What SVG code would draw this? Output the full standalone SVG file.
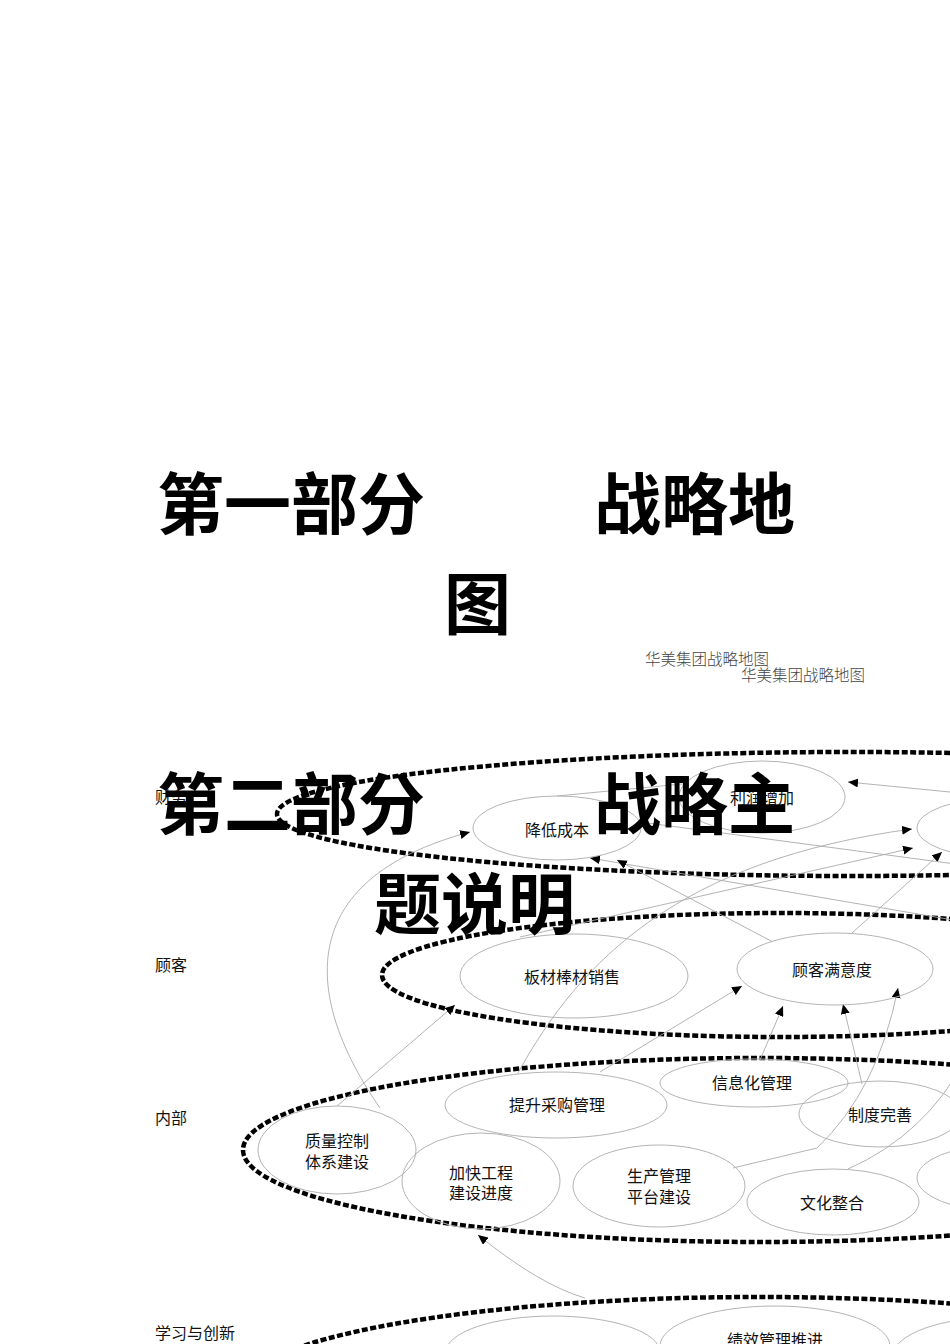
<svg xmlns="http://www.w3.org/2000/svg" width="950" height="1344" viewBox="0 0 950 1344">
<style>
.bg{fill:#fff}
.zone{fill:none;stroke:#000;stroke-width:4.5;stroke-dasharray:6 2.5}
.node{fill:none;stroke:#b4b4b4;stroke-width:1}
.link{fill:none;stroke:#aaa;stroke-width:0.9}
.lbl{font-family:"Noto Sans CJK SC","Noto Sans",sans-serif;font-size:16px;fill:#111;text-anchor:middle}
.side{font-family:"Noto Sans CJK SC","Noto Sans",sans-serif;font-size:16px;fill:#111}
.title{font-family:"Noto Sans CJK SC","Noto Sans",sans-serif;font-size:67px;font-weight:700;fill:#000}
.sub{font-family:"Noto Sans CJK SC","Noto Sans",sans-serif;font-size:15.5px;font-weight:300;fill:#444}
</style>
<defs>
<marker id="arr" markerWidth="10" markerHeight="9" refX="10" refY="4.5" orient="auto" markerUnits="userSpaceOnUse"><path d="M0,0 L10,4.5 L0,9 z" fill="#000"/></marker>
</defs>
<rect class="bg" x="0" y="0" width="950" height="1344"/>

<g id="zones">
<ellipse class="zone" cx="850" cy="814" rx="573" ry="62"/>
<ellipse class="zone" cx="780" cy="975" rx="398" ry="62"/>
<ellipse class="zone" cx="760" cy="1150" rx="517" ry="92"/>
<ellipse class="zone" cx="760" cy="1389" rx="517" ry="92"/>
</g>

<g id="side-labels">
<text class="side" x="155" y="803">财务</text>
<text class="side" x="155" y="971">顾客</text>
<text class="side" x="155" y="1124">内部</text>
<text class="side" x="155" y="1339">学习与创新</text>
</g>

<g id="connectors">
<path class="link" d="M380,1108 C305,1000 290,880 470,832" marker-end="url(#arr)"/>
<path class="link" d="M337,1106 L455,1005" marker-end="url(#arr)"/>
<path class="link" d="M1000,928 L590,858" marker-end="url(#arr)"/>
<path class="link" d="M773,942 L617,860" marker-end="url(#arr)"/>
<path class="link" d="M960,793 L848,782" marker-end="url(#arr)"/>
<path class="link" d="M518,1073 C580,960 680,860 912,829" marker-end="url(#arr)"/>
<path class="link" d="M520,937 L913,848" marker-end="url(#arr)"/>
<path class="link" d="M852,933 L942,852" marker-end="url(#arr)"/>
<path class="link" d="M557,796 L682,784"/>
<path class="link" d="M640,822 L1000,870"/>
<path class="link" d="M600,1072 L742,986" marker-end="url(#arr)"/>
<path class="link" d="M760,1060 L783,1006" marker-end="url(#arr)"/>
<path class="link" d="M862,1084 L843,1004" marker-end="url(#arr)"/>
<path class="link" d="M733,1168 L817,1148 Q878,1090 898,988" marker-end="url(#arr)"/>
<path class="link" d="M848,1169 Q925,1135 965,1060"/>
<path class="link" d="M585,1298 Q540,1285 478,1235" marker-end="url(#arr)"/>
</g>

<g id="n-cost"><ellipse class="node" cx="557" cy="828" rx="84" ry="32"/><text class="lbl" x="557" y="836">降低成本</text></g>
<g id="n-profit"><ellipse class="node" cx="762" cy="797" rx="83" ry="36"/><text class="lbl" x="762" y="804">利润增加</text></g>
<g id="n-fin-right"><ellipse class="node" cx="1000" cy="828" rx="83" ry="30"/></g>

<g id="n-sales"><ellipse class="node" cx="574" cy="976" rx="114" ry="42"/><text class="lbl" x="572" y="983">板材棒材销售</text></g>
<g id="n-satisfaction"><ellipse class="node" cx="835" cy="969" rx="98" ry="36"/><text class="lbl" x="832" y="976">顾客满意度</text></g>

<g id="n-quality"><ellipse class="node" cx="337" cy="1150" rx="79" ry="44"/><text class="lbl" x="337" y="1147">质量控制</text><text class="lbl" x="337" y="1168">体系建设</text></g>
<g id="n-project"><ellipse class="node" cx="481" cy="1181" rx="79" ry="48"/><text class="lbl" x="481" y="1179">加快工程</text><text class="lbl" x="481" y="1199">建设进度</text></g>
<g id="n-purchase"><ellipse class="node" cx="556" cy="1105" rx="111" ry="33"/><text class="lbl" x="557" y="1111">提升采购管理</text></g>
<g id="n-info"><ellipse class="node" cx="754" cy="1083" rx="94" ry="24"/><text class="lbl" x="752" y="1089">信息化管理</text></g>
<g id="n-system"><ellipse class="node" cx="880" cy="1114" rx="81" ry="33"/><text class="lbl" x="880" y="1121">制度完善</text></g>
<g id="n-production"><ellipse class="node" cx="659" cy="1186" rx="86" ry="41"/><text class="lbl" x="659" y="1182">生产管理</text><text class="lbl" x="659" y="1203">平台建设</text></g>
<g id="n-culture"><ellipse class="node" cx="833" cy="1202" rx="86" ry="33"/><text class="lbl" x="832" y="1209">文化整合</text></g>
<g id="n-int-right"><ellipse class="node" cx="1000" cy="1178" rx="83" ry="33"/></g>

<g id="n-learn-left"><ellipse class="node" cx="553" cy="1352" rx="107" ry="36"/></g>
<g id="n-performance"><ellipse class="node" cx="775" cy="1346" rx="115" ry="40"/><text class="lbl" x="775" y="1346">绩效管理推进</text></g>
<g id="n-learn-right"><ellipse class="node" cx="1000" cy="1356" rx="107" ry="39"/></g>

<g id="titles">
<text class="title" x="157" y="529">第一部分</text>
<text class="title" x="594" y="529">战略地</text>
<text class="title" x="444" y="629">图</text>
<text class="sub" x="645" y="665">华美集团战略地图</text>
<text class="sub" x="741" y="681">华美集团战略地图</text>
<text class="title" x="157" y="829">第二部分</text>
<text class="title" x="594" y="829">战略主</text>
<text class="title" x="374" y="929">题说明</text>
</g>
</svg>
